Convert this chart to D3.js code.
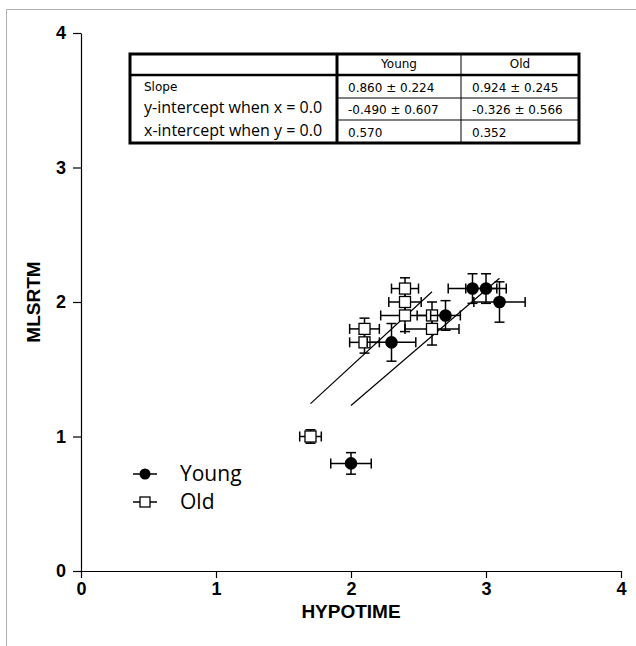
<!DOCTYPE html>
<html>
<head>
<meta charset="utf-8">
<script src="https://cdn.jsdelivr.net/npm/d3@7"></script>
<style>
  body { margin: 0; background: #fff; }
  svg { display: block; }
  text { font-family: Arial, "Liberation Sans", sans-serif; }
</style>
</head>
<body>
<svg id="chart" width="636" height="646"></svg>
<script>
// Data
const young_x = [2.0, 2.3, 2.7, 2.9, 3.0, 3.1];
const young_y = [0.8, 1.7, 1.9, 2.1, 2.1, 2.0];
const young_xerr = [0.15, 0.18, 0.11, 0.18, 0.15, 0.19];
const young_yerr = [0.08, 0.14, 0.11, 0.11, 0.11, 0.15];

const old_x = [1.7, 2.1, 2.1, 2.4, 2.4, 2.4, 2.6, 2.6];
const old_y = [1.0, 1.7, 1.8, 1.9, 2.0, 2.1, 1.8, 1.9];
const old_xerr = [0.08, 0.11, 0.11, 0.18, 0.12, 0.10, 0.20, 0.11];
const old_yerr = [0.05, 0.08, 0.08, 0.12, 0.08, 0.08, 0.12, 0.10];

// regression fits (slope, intercept) and x range of each line
const fit_slope = [0.860, 0.924];
const fit_intercept = [-0.490, -0.326];
const fit_range = [[2.0, 3.1], [1.7, 2.6]];

const x_ticks = [0, 1, 2, 3, 4];
const y_ticks = [0, 1, 2, 3, 4];

const table_header = ["", "Young", "Old"];
const table_rows = [
    ["Slope", "0.860 \u00b1 0.224", "0.924 \u00b1 0.245"],
    ["y-intercept when x = 0.0", "-0.490 \u00b1 0.607", "-0.326 \u00b1 0.566"],
    ["x-intercept when y = 0.0", "0.570", "0.352"]
];

const svg = d3.select("#chart");

// picture frame
svg.append("path")
    .attr("d", "M6.5,646 V9.5 H636")
    .attr("fill", "none")
    .attr("stroke", "#b0b0b0");

// scales
const x = d3.scaleLinear().domain([0, 4]).range([81, 621]);
const y = d3.scaleLinear().domain([0, 4]).range([571, 33]);

// Axes
const xAxis = svg.append("g")
    .attr("transform", "translate(0," + y(0) + ")")
    .call(d3.axisBottom(x).tickValues(x_ticks).tickFormat(d3.format("d")).tickSizeInner(7).tickSizeOuter(0).tickPadding(4));
const yAxis = svg.append("g")
    .attr("transform", "translate(" + x(0) + ",0)")
    .call(d3.axisLeft(y).tickValues(y_ticks).tickFormat(d3.format("d")).tickSizeInner(8).tickSizeOuter(0).tickPadding(7));

[xAxis, yAxis].forEach(a => {
    a.select(".domain").attr("stroke", "#000").attr("stroke-width", 1.2);
    a.selectAll(".tick line").attr("stroke", "#000").attr("stroke-width", 1.2);
    a.selectAll(".tick text")
        .attr("fill", "#000")
        .style("font-size", "18px")
        .style("font-weight", "bold");
});

// axis titles
svg.append("text")
    .attr("x", (x(0) + x(4)) / 2)
    .attr("y", 618)
    .attr("text-anchor", "middle")
    .style("font-size", "19px")
    .style("font-weight", "bold")
    .text("HYPOTIME");
svg.append("text")
    .attr("transform", "translate(40," + y(2) + ") rotate(-90)")
    .attr("text-anchor", "middle")
    .style("font-size", "19px")
    .style("font-weight", "bold")
    .text("MLSRTM");

// regression lines
const plot = svg.append("g");
fit_slope.forEach((s, i) => {
    const r = fit_range[i];
    plot.append("line")
        .attr("x1", x(r[0])).attr("y1", y(s * r[0] + fit_intercept[i]))
        .attr("x2", x(r[1])).attr("y2", y(s * r[1] + fit_intercept[i]))
        .attr("stroke", "#000")
        .attr("stroke-width", 1.2);
});

// error bars + markers
const cap = 5;
function drawSeries(xs, ys, xe, ye, kind) {
    const data = xs.map((v, i) => ({ x: v, y: ys[i], xe: xe[i], ye: ye[i] }));
    const g = plot.append("g");
    const eb = g.selectAll("g.err").data(data).enter().append("g")
        .attr("stroke", "#000").attr("stroke-width", 1.5);
    eb.append("line")
        .attr("x1", d => x(d.x - d.xe)).attr("x2", d => x(d.x + d.xe))
        .attr("y1", d => y(d.y)).attr("y2", d => y(d.y));
    eb.append("line")
        .attr("x1", d => x(d.x)).attr("x2", d => x(d.x))
        .attr("y1", d => y(d.y - d.ye)).attr("y2", d => y(d.y + d.ye));
    [-1, 1].forEach(sgn => {
        eb.append("line")
            .attr("x1", d => x(d.x + sgn * d.xe)).attr("x2", d => x(d.x + sgn * d.xe))
            .attr("y1", d => y(d.y) - cap).attr("y2", d => y(d.y) + cap);
        eb.append("line")
            .attr("x1", d => x(d.x) - cap).attr("x2", d => x(d.x) + cap)
            .attr("y1", d => y(d.y + sgn * d.ye)).attr("y2", d => y(d.y + sgn * d.ye));
    });
    if (kind == "circle") {
        g.selectAll("circle").data(data).enter().append("circle")
            .attr("cx", d => x(d.x)).attr("cy", d => y(d.y))
            .attr("r", 6.3).attr("fill", "#000");
    } else {
        g.selectAll("rect").data(data).enter().append("rect")
            .attr("x", d => x(d.x) - 5.5).attr("y", d => y(d.y) - 5.5)
            .attr("width", 11).attr("height", 11)
            .attr("fill", "#fff").attr("stroke", "#000").attr("stroke-width", 1.3);
    }
}
drawSeries(old_x, old_y, old_xerr, old_yerr, "square");
drawSeries(young_x, young_y, young_xerr, young_yerr, "circle");

// Legend
const legend = svg.append("g");
legend.append("line").attr("x1", 133).attr("x2", 157).attr("y1", 474).attr("y2", 474).attr("stroke", "#000").attr("stroke-width", 1.5);
legend.append("circle").attr("cx", 145).attr("cy", 474).attr("r", 5.5).attr("fill", "#000");
legend.append("line").attr("x1", 133).attr("x2", 157).attr("y1", 502).attr("y2", 502).attr("stroke", "#000").attr("stroke-width", 1.5);
legend.append("rect").attr("x", 140).attr("y", 497).attr("width", 10).attr("height", 10).attr("fill", "#fff").attr("stroke", "#000").attr("stroke-width", 1.3);
legend.append("text").attr("x", 180).attr("y", 481).text("Young").style("font-size", "21px").style("font-family", "'Open Sans', sans-serif");
legend.append("text").attr("x", 180).attr("y", 509).text("Old").style("font-size", "21px").style("font-family", "'Open Sans', sans-serif");

// Table of fit results
const tbl = svg.append("g");
const col_x = [130, 337, 461, 579];
const row_y = [54, 75, 98, 120, 143];
tbl.append("rect")
    .attr("x", col_x[0]).attr("y", row_y[0])
    .attr("width", col_x[3] - col_x[0]).attr("height", row_y[4] - row_y[0])
    .attr("fill", "#fff").attr("stroke", "#000").attr("stroke-width", 3);
tbl.append("line").attr("x1", col_x[0]).attr("x2", col_x[3]).attr("y1", row_y[1]).attr("y2", row_y[1]).attr("stroke", "#000").attr("stroke-width", 2.5);
tbl.append("line").attr("x1", col_x[1]).attr("x2", col_x[1]).attr("y1", row_y[0]).attr("y2", row_y[4]).attr("stroke", "#000").attr("stroke-width", 3);
tbl.append("line").attr("x1", col_x[2]).attr("x2", col_x[2]).attr("y1", row_y[0]).attr("y2", row_y[4]).attr("stroke", "#000").attr("stroke-width", 1);
[row_y[2], row_y[3]].forEach(ry => {
    tbl.append("line").attr("x1", col_x[1]).attr("x2", col_x[3]).attr("y1", ry).attr("y2", ry).attr("stroke", "#000").attr("stroke-width", 1);
});
const small_font = "'DejaVu Sans', sans-serif";
table_header.forEach((h, i) => {
    if (!h) return;
    tbl.append("text")
        .attr("x", (col_x[i] + col_x[i + 1]) / 2).attr("y", row_y[1] - 7)
        .attr("text-anchor", "middle")
        .style("font-size", "12px")
        .style("font-family", small_font)
        .text(h);
});
const text_y = [91, 113, 136];
table_rows.forEach((row, r) => {
    row.forEach((cell, c) => {
        const big = c == 0 && r > 0;
        tbl.append("text")
            .attr("x", c == 0 ? 144 : col_x[c] + 11)
            .attr("y", c == 0 ? text_y[r] : row_y[r + 2] - 6)
            .style("font-size", big ? "16px" : "12px")
            .style("font-family", big ? "'Open Sans', sans-serif" : small_font)
            .text(cell);
    });
});
</script>
</body>
</html>
